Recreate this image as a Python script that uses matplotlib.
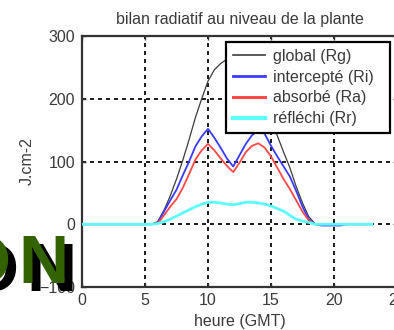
import matplotlib
matplotlib.use('Agg')
import matplotlib.pyplot as plt
from matplotlib.lines import Line2D

# ---- data ----
hours = [0.0, 0.5, 1.0, 1.5, 2.0, 2.5, 3.0, 3.5, 4.0, 4.5, 5.0, 5.5,
         6.0, 6.5, 7.0, 7.5, 8.0, 8.5, 9.0, 9.5, 10.0, 10.5, 11.0, 11.5,
         12.0, 12.5, 13.0, 13.5, 14.0, 14.5, 15.0, 15.5, 16.0, 16.5, 17.0, 17.5,
         18.0, 18.5, 19.0, 19.5, 20.0, 20.5, 21.0, 21.5, 22.0, 22.5, 23.0]

rg_global = [0, 0, 0, 0, 0, 0, 0, 0, 0, 0, 0, 0,
             4, 22, 45, 72, 102, 135, 170, 200, 228, 246, 256, 263,
             266, 263, 255, 240, 220, 195, 168, 141, 115, 90, 60, 34,
             12, 1, 0, 0, 0, 0, 0, 0, 0, 0, 0]

ri_intercepte = [0, 0, 0, 0, 0, 0, 0, 0, 0, 0, 0, 0,
                 2, 20, 38, 55, 78, 100, 124, 140, 152, 138, 122, 105,
                 92, 110, 128, 142, 150, 144, 125, 108, 92, 76, 53, 28,
                 8, 0, -2, -2, -2, -2, 0, 0, 0, 0, 0]

ra_absorbe = [0, 0, 0, 0, 0, 0, 0, 0, 0, 0, 0, 0,
              1, 14, 28, 40, 58, 80, 103, 118, 128, 118, 105, 93,
              83, 98, 115, 125, 129, 122, 108, 90, 72, 56, 38, 20,
              6, 0, 0, 0, 0, 0, 0, 0, 0, 0, 0]

rr_reflechi = [0, 0, 0, 0, 0, 0, 0, 0, 0, 0, 0, 0,
               1, 4, 8, 13, 18, 23, 28, 32, 35, 35, 34, 32,
               31, 33, 35, 35, 34, 32, 29, 25, 21, 14, 8, 5,
               3, 0, 0, 0, 0, 0, 0, 0, 0, 0, 0]

labels = ['global (Rg)', 'intercepté (Ri)', 'absorbé (Ra)', 'réfléchi (Rr)']
xticks = [0, 5, 10, 15, 20, 25]
yticks = [-100, 0, 100, 200, 300]

# ---- style ----
FONT = ['Liberation Sans', 'DejaVu Sans']
plt.rcParams['font.family'] = FONT
TXT = '#3a3a3a'
FS = 11.5

W, H = 394, 330
fig = plt.figure(figsize=(W / 100, H / 100), dpi=100)
fig.patch.set_facecolor('white')
ax = fig.add_axes([82 / W, 1 - 287 / H, 315 / W, 251 / H])

colors = ['#3c3c3c', '#3a3aff', '#ff4848', '#5cffff']
widths = [0.9, 1.3, 1.3, 2.0]
series = [rg_global, ri_intercepte, ra_absorbe, rr_reflechi]
for s, c, w in zip(series, colors, widths):
    ax.plot(hours, s, color=c, lw=w, zorder=3)

ax.set_xlim(0, 25)
ax.set_ylim(-100, 300)
ax.set_xticks(xticks)
ax.set_yticks(yticks)
ax.grid(True, color='#202020', lw=1.44, linestyle=(0, (2, 2)), zorder=1)
ax.set_axisbelow(True)

for side in ['left', 'bottom', 'top', 'right']:
    ax.spines[side].set_color('#333333')
    ax.spines[side].set_linewidth(1.6)

ax.tick_params(direction='in', length=3, width=1, color='#333333',
               top=True, right=True, labelsize=FS, labelcolor=TXT)
ax.tick_params(axis='x', pad=4)
ax.tick_params(axis='y', pad=5)

ax.set_title('bilan radiatif au niveau de la plante', fontsize=FS, color=TXT,
             y=(287 - 24) / 251, pad=0)
ax.set_xlabel('heure (GMT)', fontsize=FS, color=TXT)
ax.xaxis.set_label_coords(0.5, -0.108)
ax.set_ylabel('J.cm-2', fontsize=FS, color=TXT)
ax.yaxis.set_label_coords(-0.15, 0.5)

handles = [Line2D([], [], color=colors[0], lw=1.2),
           Line2D([], [], color=colors[1], lw=2.0),
           Line2D([], [], color=colors[2], lw=2.2),
           Line2D([], [], color=colors[3], lw=3.0)]
leg = ax.legend(handles, labels, loc='upper left',
                bbox_to_anchor=(226 / W, (H - 45) / H, 164 / W, 0.01),
                bbox_transform=fig.transFigure, mode='expand',
                borderaxespad=0, fontsize=FS, labelcolor=TXT,
                handlelength=2.0, handletextpad=0.5, labelspacing=0.36,
                borderpad=0.45, fancybox=False, framealpha=1)
leg.get_frame().set_edgecolor('black')
leg.get_frame().set_linewidth(1.6)
leg.set_zorder(5)

# ---- "ON" logo overlay at bottom left ----
logo_fs = 50
base_y = (H - 283) / H
for dx, dy, col in [(8, -8, 'black'), (0, 0, '#326300')]:
    fig.text((10 + dx) / W, base_y + dy / H, 'O', fontsize=logo_fs,
             fontweight='bold', color=col, ha='right', va='baseline',
             family=FONT, zorder=10)
    fig.text((18 + dx) / W, base_y + dy / H, 'N', fontsize=logo_fs,
             fontweight='bold', color=col, ha='left', va='baseline',
             family=FONT, zorder=10)

fig.savefig('out.png', dpi=100)
